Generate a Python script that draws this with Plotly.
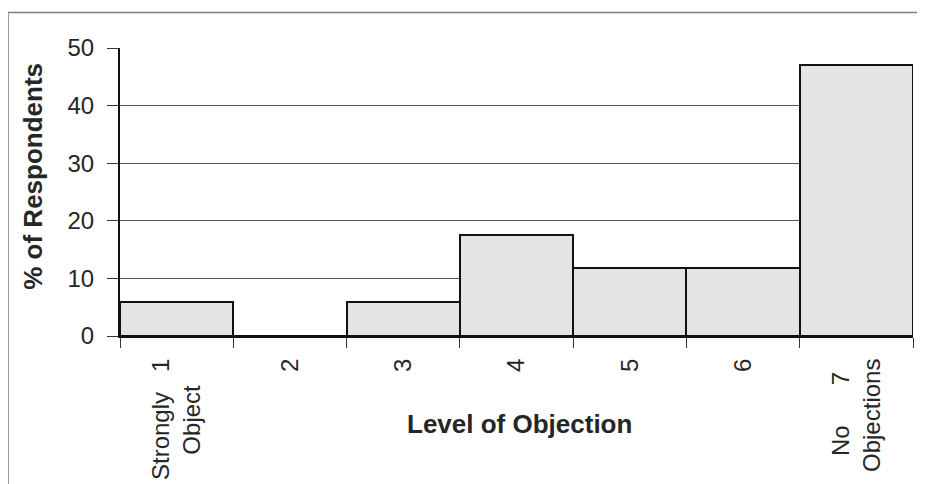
import plotly.graph_objects as go

NB = "\u00a0"
categories = ["1", "2", "3", "4", "5", "6", "7"]
tick_labels = [
    "Strongly" + NB * 3 + "1<br>Object" + NB * 4,
    "2",
    "3",
    "4",
    "5",
    "6",
    "No" + NB * 6 + "7" + NB * 2 + "<br>Objections",
]
percent = [5.9, 0, 5.9, 17.6, 11.8, 11.8, 47.1]
y_ticks = [0, 10, 20, 30, 40, 50]
x_title = "Level of Objection"
y_title = "% of Respondents"

fig = go.Figure()
fig.add_trace(go.Bar(
    x=categories, y=percent,
    marker=dict(color="#e4e4e4", line=dict(color="#111111", width=2)),
    width=1.0,
))

FONT = "Liberation Sans, Arial, sans-serif"
TXT = "#262626"
# page body has an 8px margin, so the figure is drawn 8px smaller and offset
fig.update_layout(
    width=917, height=476,
    margin=dict(l=112, r=12, t=40, b=148),
    paper_bgcolor="white", plot_bgcolor="white",
    bargap=0, showlegend=False,
    font=dict(family=FONT, color=TXT),
    xaxis=dict(
        type="category", tickmode="array", tickvals=categories, ticktext=tick_labels,
        tickangle=-90, tickson="boundaries", ticks="outside", ticklen=10,
        tickcolor="#333", tickwidth=1, ticklabelstandoff=11,
        showline=True, linecolor="#111", linewidth=2,
        tickfont=dict(size=24, family=FONT, color=TXT),
        showgrid=False, automargin=False,
    ),
    yaxis=dict(
        range=[0, 50], tickvals=y_ticks,
        ticks="outside", ticklen=11, tickcolor="#333", ticklabelstandoff=8,
        showline=True, linecolor="#111", linewidth=2,
        showgrid=True, gridcolor="#555555", gridwidth=1,
        zeroline=False, automargin=False,
        tickfont=dict(size=24, family=FONT, color=TXT),
    ),
    annotations=[
        dict(text="<b>" + x_title + "</b>", xref="paper", yref="paper",
             x=0.504, y=-0.305, xanchor="center", yanchor="middle",
             showarrow=False, font=dict(size=26, family=FONT, color=TXT)),
        dict(text="<b>" + y_title + "</b>", xref="paper", yref="paper",
             x=-0.1097, y=0.553, xanchor="center", yanchor="middle", textangle=-90,
             showarrow=False, font=dict(size=26, family=FONT, color=TXT)),
    ],
    shapes=[dict(type="rect", xref="paper", yref="paper",
                 x0=-0.1412, x1=1.04, y0=-0.6, y1=1.123,
                 line=dict(color="#808080", width=1.5), layer="below")],
)

fig.write_html("out.html")
